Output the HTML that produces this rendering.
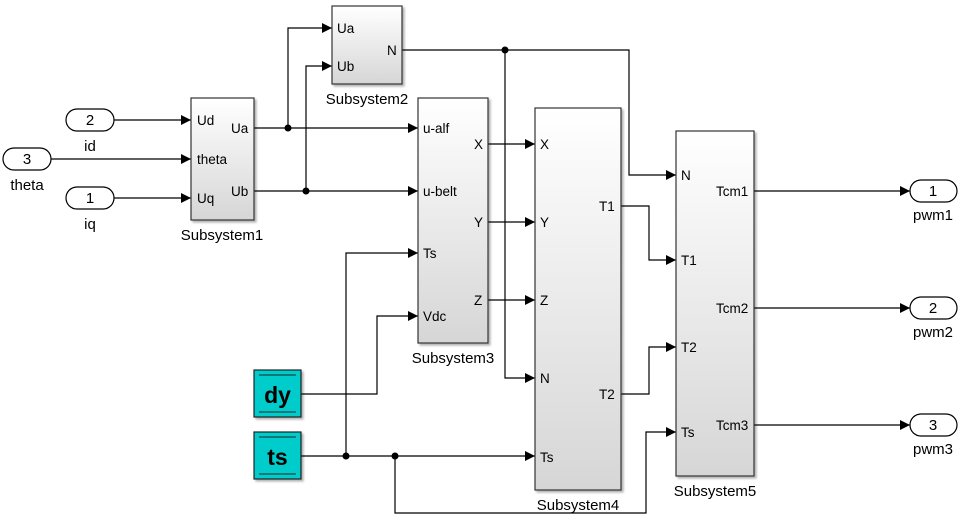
<!DOCTYPE html>
<html><head><meta charset="utf-8"><style>
html,body{margin:0;padding:0;background:#fff;}
svg{display:block;font-family:"Liberation Sans",Arial,sans-serif;}
</style></head><body>
<svg width="963" height="521" viewBox="0 0 963 521" xmlns="http://www.w3.org/2000/svg">
<defs>
<linearGradient id="g" x1="0" y1="0" x2="0" y2="1"><stop offset="0" stop-color="#ffffff"/><stop offset="1" stop-color="#d6d6d6"/></linearGradient>
<filter id="sh" x="-10%" y="-10%" width="130%" height="130%"><feDropShadow dx="2" dy="2" stdDeviation="1" flood-color="#000" flood-opacity="0.3"/></filter>
<marker id="a" markerWidth="10" markerHeight="10" refX="10" refY="5" orient="auto" markerUnits="userSpaceOnUse"><path d="M0,0 L10,5 L0,10 z" fill="#000"/></marker>
</defs>
<g fill="none" stroke="#000" stroke-width="1.2">
<path d="M114,120 H191" marker-end="url(#a)"/>
<path d="M51,159 H191" marker-end="url(#a)"/>
<path d="M114,198 H191" marker-end="url(#a)"/>
<path d="M254,128 H418" marker-end="url(#a)"/>
<path d="M288,128 V28 H332" marker-end="url(#a)"/>
<path d="M254,191 H418" marker-end="url(#a)"/>
<path d="M306,191 V66 H332" marker-end="url(#a)"/>
<path d="M402,50 H629 V175 H676" marker-end="url(#a)"/>
<path d="M505,50 V378 H535" marker-end="url(#a)"/>
<path d="M488,144 H535" marker-end="url(#a)"/>
<path d="M488,222 H535" marker-end="url(#a)"/>
<path d="M488,300 H535" marker-end="url(#a)"/>
<path d="M301,394 H377 V316 H418" marker-end="url(#a)"/>
<path d="M301,456 H535" marker-end="url(#a)"/>
<path d="M346,456 V253 H418" marker-end="url(#a)"/>
<path d="M395,456 V513 H646 V432 H676" marker-end="url(#a)"/>
<path d="M621,206 H649 V260 H676" marker-end="url(#a)"/>
<path d="M621,394 H649 V347 H676" marker-end="url(#a)"/>
<path d="M754,191 H910" marker-end="url(#a)"/>
<path d="M754,308 H910" marker-end="url(#a)"/>
<path d="M754,425 H910" marker-end="url(#a)"/>
</g>
<g fill="#000">
<circle cx="288" cy="128" r="3.5"/><circle cx="306" cy="191" r="3.5"/><circle cx="505" cy="50" r="3.5"/>
<circle cx="346" cy="456" r="3.5"/><circle cx="395" cy="456" r="3.5"/>
</g>
<g fill="url(#g)" stroke="#333" stroke-width="1.2" filter="url(#sh)">
<rect x="191" y="98" width="63" height="122"/>
<rect x="332" y="6" width="70" height="78"/>
<rect x="418" y="98" width="70" height="245"/>
<rect x="535" y="108" width="86" height="382"/>
<rect x="676" y="131" width="78" height="345"/>
</g>
<g fill="#fff" stroke="#000" stroke-width="1.2">
<rect x="66" y="109" width="48" height="22" rx="11"/>
<rect x="3" y="148" width="48" height="22" rx="11"/>
<rect x="66" y="187" width="48" height="22" rx="11"/>
<rect x="910" y="180" width="47" height="22" rx="11"/>
<rect x="910" y="297" width="47" height="22" rx="11"/>
<rect x="910" y="414" width="47" height="22" rx="11"/>
</g>
<g filter="url(#sh)">
<rect x="254" y="370" width="47" height="47" fill="#00cccc" stroke="#222" stroke-width="1.2"/>
<rect x="254" y="432" width="47" height="47" fill="#00cccc" stroke="#222" stroke-width="1.2"/>
</g>
<g stroke="#222" stroke-width="1">
<path d="M259,375 H296 M259,412 H296 M259,437 H296 M259,474 H296"/>
</g>
<g font-size="23" font-weight="bold" text-anchor="middle">
<text x="277.5" y="403">dy</text><text x="277.5" y="465">ts</text>
</g>
<g font-size="15" text-anchor="middle">
<text x="90" y="125">2</text><text x="27" y="164">3</text><text x="90" y="203">1</text>
<text x="933" y="196">1</text><text x="933" y="313">2</text><text x="933" y="430">3</text>
<text x="90" y="151">id</text><text x="27" y="190">theta</text><text x="90" y="229">iq</text>
<text x="933" y="220">pwm1</text><text x="933" y="337">pwm2</text><text x="933" y="454">pwm3</text>
<text x="222" y="240">Subsystem1</text>
<text x="367" y="104">Subsystem2</text>
<text x="453" y="363">Subsystem3</text>
<text x="578" y="510">Subsystem4</text>
<text x="715" y="496">Subsystem5</text>
</g>
<g font-size="13.5">
<text x="197" y="125">Ud</text><text x="197" y="164">theta</text><text x="197" y="203">Uq</text>
<text x="231" y="133">Ua</text><text x="231" y="196">Ub</text>
<text x="337" y="33">Ua</text><text x="337" y="71">Ub</text><text x="387" y="55">N</text>
<text x="423" y="133">u-alf</text><text x="423" y="196">u-belt</text><text x="423" y="258">Ts</text><text x="423" y="321">Vdc</text>
<text x="474" y="149">X</text><text x="474" y="227">Y</text><text x="474" y="305">Z</text>
<text x="540" y="149">X</text><text x="540" y="227">Y</text><text x="540" y="305">Z</text><text x="540" y="383">N</text><text x="540" y="462">Ts</text>
<text x="599" y="211">T1</text><text x="599" y="399">T2</text>
<text x="681" y="180">N</text><text x="681" y="265">T1</text><text x="681" y="352">T2</text><text x="681" y="437">Ts</text>
<text x="716" y="196">Tcm1</text><text x="716" y="313">Tcm2</text><text x="716" y="430">Tcm3</text>
</g>
</svg>
</body></html>
